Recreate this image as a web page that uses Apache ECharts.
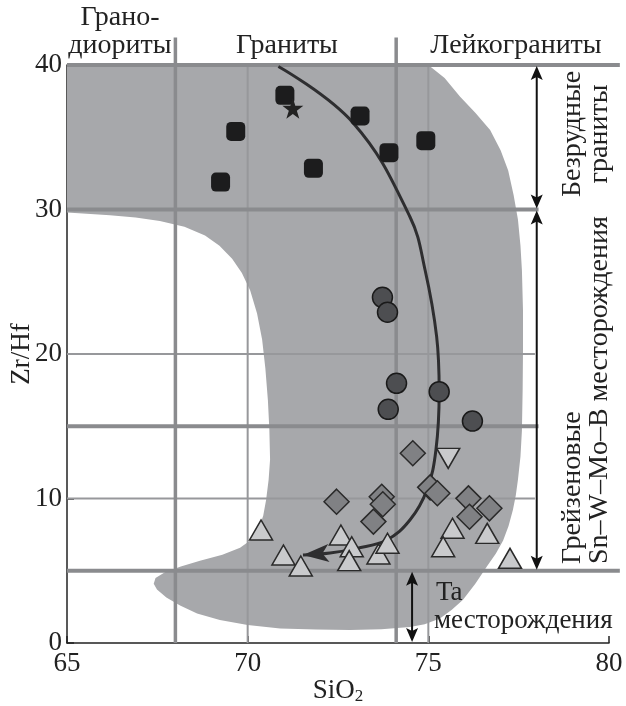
<!DOCTYPE html>
<html><head><meta charset="utf-8">
<script src="https://cdn.jsdelivr.net/npm/echarts@6/dist/echarts.min.js"></script>
<style>html,body{margin:0;padding:0;background:#fff}#c{width:626px;height:706px}</style>
</head><body><div id="c"></div>
<script>
// ---- data ----
const xTicks = [65, 70, 75, 80];
const yTicks = [0, 10, 20, 30, 40];
const squares = [[71.03,37.9],[69.67,35.4],[69.25,31.9],[71.82,32.85],[73.11,36.47],[73.91,33.93],[74.93,34.76]];
const stars = [[71.25,37.0]];
const circles = [[73.73,23.92],[73.87,22.89],[74.12,17.97],[73.89,16.17],[75.30,17.39],[76.22,15.36]];
const diamonds = [[74.57,13.13],[72.46,9.78],[73.71,10.12],[73.74,9.6],[73.48,8.4],[75.05,10.77],[75.25,10.36],[76.11,10.01],[76.69,9.32],[76.14,8.74]];
const trianglesUp = [[70.37,7.82],[70.99,6.09],[71.47,5.33],[72.58,7.47],[72.88,6.66],[72.81,5.7],[73.62,6.16],[73.87,6.9],[75.67,7.94],[75.41,6.66],[76.63,7.59],[77.26,5.86]];
const trianglesDown = [[75.55,12.78]];
const trendCurve = [[70.85,39.9],[72.92,35.99],[74.49,29.5],[74.91,25.81],[75.23,21.2],[75.30,17.39],[75.21,13.36],[74.96,10.59],[74.49,8.51],[73.85,7.13],[73.02,6.55],[72.28,6.23],[71.53,6.09]];
const fieldOutline = [[65.0,40],[75.0,40],[75.45,39.1],[75.88,37.8],[76.3,36.7],[76.71,35.5],[77.0,34.1],[77.21,32.7],[77.36,31.0],[77.48,29.3],[77.55,27.5],[77.59,25.8],[77.62,23],[77.62,20.3],[77.61,17.5],[77.59,14.7],[77.55,12.9],[77.48,11.3],[77.42,10.2],[77.34,9.2],[77.22,8.1],[77.07,7.1],[76.87,6.2],[76.62,5.3],[76.3,4.1],[75.96,3.0],[75.65,2.3],[75.32,1.7],[74.9,1.3],[74.49,1.1],[73.7,0.95],[72.83,0.9],[71.9,0.93],[70.90,1.0],[70.0,1.25],[69.23,1.6],[68.6,2.05],[68.13,2.6],[67.75,3.15],[67.49,3.7],[67.4,4.1],[67.45,4.5],[67.71,4.9],[68.15,5.3],[68.68,5.7],[69.3,6.1],[69.79,6.6],[70.1,7.15],[70.29,7.8],[70.43,8.8],[70.51,9.9],[70.58,11.3],[70.62,12.7],[70.6,14.8],[70.56,16.8],[70.49,19.0],[70.40,21.0],[70.26,22.8],[70.07,24.4],[69.84,25.6],[69.57,26.6],[69.22,27.5],[68.82,28.2],[68.25,28.8],[67.57,29.2],[66.9,29.45],[66.19,29.6],[65.0,29.8]];
const rockBoundariesX = [68.0, 74.11];
const gridX = [70, 75];
const boundaryY = [40, 5];
const depositY = [30, 15];
const gridY = [20, 10];
const rangeArrows = [[78.0, 40, 30], [78.0, 30, 5], [74.55, 5, 0]];

// ---- chart ----
const FONT = '"Liberation Serif", "Times New Roman", serif';
const chart = echarts.init(document.getElementById('c'), null, {renderer: 'canvas'});

function seg(api, x1, y1, x2, y2, w, color) {
  const a = api.coord([x1, y1]), b = api.coord([x2, y2]);
  return {type: 'line', shape: {x1: a[0], y1: a[1], x2: b[0], y2: b[1]}, style: {stroke: color, lineWidth: w}};
}
function head(tip, dir, len, hw) {
  const nx = -dir[1], ny = dir[0];
  const bx = tip[0] - dir[0] * len, by = tip[1] - dir[1] * len;
  return [[tip[0], tip[1]], [bx + nx * hw, by + ny * hw], [tip[0] - dir[0] * len * 0.75, tip[1] - dir[1] * len * 0.75], [bx - nx * hw, by - ny * hw]];
}
function txt(x, y, text, size, align, rot) {
  return {type: 'text', x: x, y: y, z: 100, rotation: rot || 0,
    style: {text: text, font: size + 'px ' + FONT, fill: '#222', align: align, verticalAlign: 'middle'}};
}

const option = {
  animation: false,
  backgroundColor: '#fff',
  grid: {left: 67, right: 17, top: 65, bottom: 63, containLabel: false, outerBoundsMode: 'none'},
  xAxis: {
    type: 'value', min: 65, max: 80, interval: 5,
    name: 'SiO{sub|2}', nameLocation: 'middle', nameGap: 33, nameMoveOverlap: false,
    nameTextStyle: {fontFamily: FONT, fontSize: 27, color: '#222', rich: {sub: {fontFamily: FONT, fontSize: 17, verticalAlign: 'bottom', padding: [12, 0, 0, 0], color: '#222'}}},
    axisLine: {show: true, lineStyle: {color: '#222', width: 1.5}},
    axisTick: {show: true, inside: true, length: 7, lineStyle: {color: '#222', width: 1.5}},
    axisLabel: {fontFamily: FONT, fontSize: 27, color: '#222', margin: 7,
      formatter: v => xTicks.includes(v) ? String(v) : ''},
    splitLine: {show: false}
  },
  yAxis: {
    type: 'value', min: 0, max: 40, interval: 10,
    name: 'Zr/Hf', nameLocation: 'middle', nameGap: 32, nameMoveOverlap: false,
    nameTextStyle: {fontFamily: FONT, fontSize: 27, color: '#222'},
    axisLine: {show: true, lineStyle: {color: '#222', width: 1.5}},
    axisTick: {show: true, inside: true, length: 7, lineStyle: {color: '#222', width: 1.5}},
    axisLabel: {fontFamily: FONT, fontSize: 27, color: '#222', margin: 5,
      formatter: v => yTicks.includes(v) ? String(v) : ''},
    splitLine: {show: false}
  },
  series: [
    { // grey field
      type: 'custom', z: 1, clip: false, silent: true, data: [[0, 0]],
      renderItem: (p, api) => ({
        type: 'polygon',
        shape: {points: fieldOutline.map(d => api.coord(d))},
        style: {fill: '#a7a8ab', stroke: null}
      })
    },
    { // reference lines
      type: 'custom', z: 2, clip: false, silent: true, data: [[0, 0]],
      renderItem: (p, api) => {
        const ch = [];
        gridX.forEach(x => ch.push(seg(api, x, 0, x, 40, 2, '#97989b')));
        gridY.forEach(y => ch.push(seg(api, 65, y, 77.95, y, 2, '#97989b')));
        rockBoundariesX.forEach(x => ch.push(seg(api, x, 0, x, 41.9, 3.5, '#8a8b8e')));
        depositY.forEach(y => ch.push(seg(api, 65, y, 78.05, y, 4, '#8a8b8e')));
        boundaryY.forEach(y => ch.push(seg(api, 65, y, 80.3, y, 4, '#8a8b8e')));
        return {type: 'group', children: ch};
      }
    },
    { // trend line
      type: 'line', z: 3, data: trendCurve, smooth: 0.4, symbol: 'none',
      lineStyle: {color: '#2e2e30', width: 3}, silent: true
    },
    { // trend arrowhead
      type: 'custom', z: 3, clip: false, silent: true, data: [[0, 0]],
      renderItem: (p, api) => {
        const n = trendCurve.length;
        const a = api.coord(trendCurve[n - 2]), b = api.coord(trendCurve[n - 1]);
        const L = Math.hypot(b[0] - a[0], b[1] - a[1]);
        const dir = [(b[0] - a[0]) / L, (b[1] - a[1]) / L];
        return {type: 'polygon', shape: {points: head(b, dir, 26, 9)}, style: {fill: '#2e2e30'}};
      }
    },
    {type: 'scatter', z: 4, data: squares, symbol: 'roundRect', symbolSize: 19,
      itemStyle: {color: '#1c1c1d', opacity: 1}},
    {type: 'scatter', z: 4, data: stars,
      symbol: 'path://M50,0 L61.8,36.2 L100,36.2 L69.1,58.8 L80.9,95.1 L50,72.7 L19.1,95.1 L30.9,58.8 L0,36.2 L38.2,36.2 Z',
      symbolSize: 21, itemStyle: {color: '#222', opacity: 1}},
    {type: 'scatter', z: 4, data: circles, symbol: 'circle', symbolSize: 20,
      itemStyle: {color: '#4d4e51', borderColor: '#1a1a1a', borderWidth: 1.5, opacity: 1}},
    {type: 'scatter', z: 4, data: diamonds, symbol: 'diamond', symbolSize: 25,
      itemStyle: {color: '#808184', borderColor: '#2a2a2a', borderWidth: 1.5, opacity: 1}},
    {type: 'scatter', z: 4, data: trianglesUp, symbol: 'triangle', symbolSize: [23, 20],
      itemStyle: {color: '#c9cacc', borderColor: '#2a2a2a', borderWidth: 1.5, opacity: 1}},
    {type: 'scatter', z: 4, data: trianglesDown, symbol: 'triangle', symbolRotate: 180, symbolSize: [23, 20],
      itemStyle: {color: '#c9cacc', borderColor: '#2a2a2a', borderWidth: 1.5, opacity: 1}},
    { // range arrows
      type: 'custom', z: 5, clip: false, silent: true, data: [[0, 0]],
      renderItem: (p, api) => {
        const ch = [];
        rangeArrows.forEach(([x, y1, y2]) => {
          const a = api.coord([x, y1]), b = api.coord([x, y2]);
          ch.push({type: 'line', shape: {x1: a[0], y1: a[1] + 8, x2: b[0], y2: b[1] - 8}, style: {stroke: '#111', lineWidth: 2}});
          ch.push({type: 'polygon', shape: {points: [[a[0], a[1] + 1], [a[0] - 6, a[1] + 15], [a[0], a[1] + 12], [a[0] + 6, a[1] + 15]]}, style: {fill: '#111'}});
          ch.push({type: 'polygon', shape: {points: [[b[0], b[1] - 1], [b[0] - 6, b[1] - 15], [b[0], b[1] - 12], [b[0] + 6, b[1] - 15]]}, style: {fill: '#111'}});
        });
        return {type: 'group', children: ch};
      }
    }
  ],
  graphic: [
    txt(120, 18, 'Грано-', 28, 'center'),
    txt(120, 46, 'диориты', 28, 'center'),
    txt(287, 46, 'Граниты', 28, 'center'),
    txt(516, 46, 'Лейкограниты', 28, 'center'),
    txt(573, 134, 'Безрудные', 28, 'center', Math.PI / 2),
    txt(600, 134, 'граниты', 28, 'center', Math.PI / 2),
    txt(573, 564, 'Грейзеновые', 28, 'left', Math.PI / 2),
    txt(600, 564, 'Sn–W–Mo–B месторождения', 28, 'left', Math.PI / 2),
    txt(436, 593, 'Ta', 27, 'left'),
    txt(434, 621, 'месторождения', 27, 'left')
  ]
};
chart.setOption(option);
</script>
</body></html>
